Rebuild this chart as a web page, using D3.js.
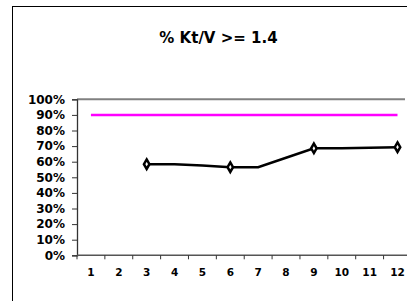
<!DOCTYPE html>
<html><head><meta charset="utf-8">
<script src="https://cdn.jsdelivr.net/npm/d3@7"></script>
<style>body{margin:0;background:#fff}svg{display:block}text{font-family:"DejaVu Sans",Arial,sans-serif;font-weight:bold}</style>
</head><body><svg id="c" width="407" height="301"></svg>
<script>
const title = "% Kt/V >= 1.4";
const months = [1,2,3,4,5,6,7,8,9,10,11,12];
const actual = [null,null,0.584,0.583,0.575,0.565,0.565,0.625,0.686,0.687,0.69,0.693];
const markerMonths = [3,6,9,12];
const target = [0.9,0.9,0.9,0.9,0.9,0.9,0.9,0.9,0.9,0.9,0.9,0.9];
const yTicks = [0,0.1,0.2,0.3,0.4,0.5,0.6,0.7,0.8,0.9,1.0];

const FF = "'DejaVu Sans', Arial, sans-serif";
const svg = d3.select("#c");
const L = 77, T = 99.3, B = 255.3, W = 12*27.87;
svg.append("rect").attr("x",12.5).attr("y",6.5).attr("width",420).attr("height",320)
  .attr("fill","none").attr("stroke","#000").attr("stroke-width",1);
svg.append("text").attr("x",218.5).attr("y",43).attr("text-anchor","middle")
  .attr("font-size","15px").text(title);

const x = d3.scaleBand().domain(months).range([L, L+W]).padding(0);
const y = d3.scaleLinear().domain([0,1]).range([B, T]);

svg.append("line").attr("x1",L).attr("x2",405).attr("y1",y(1)).attr("y2",y(1))
  .attr("stroke","#808080").attr("stroke-width",2);

const ya = svg.append("g").attr("transform",`translate(${L},0)`)
  .call(d3.axisLeft(y).tickValues(yTicks).tickFormat(d3.format(".0%")).tickSize(5).tickPadding(7));
ya.select(".domain").attr("stroke","#333").attr("stroke-width",1.3);
ya.selectAll(".tick line").attr("stroke","#333");
ya.selectAll("text").attr("font-size","12px").attr("fill","#000").style("font-family",FF).style("font-weight","bold");

const xa = svg.append("g").attr("transform",`translate(0,${B})`)
  .call(d3.axisBottom(x).tickSize(0).tickPadding(13));
xa.select(".domain").remove();
xa.selectAll("text").attr("font-size","10.5px").attr("fill","#000").style("font-family",FF).style("font-weight","bold");
svg.append("line").attr("x1",L).attr("x2",407).attr("y1",B).attr("y2",B).attr("stroke","#555").attr("stroke-width",1.5);
svg.append("g").selectAll("line").data(months.concat([13])).join("line")
  .attr("x1",d=>L+(d-1)*x.bandwidth()).attr("x2",d=>L+(d-1)*x.bandwidth())
  .attr("y1",B).attr("y2",B+4).attr("stroke","#333");

const cx = m => x(m)+x.bandwidth()/2;
svg.append("path").datum(months.map((m,i)=>[m,target[i]]))
  .attr("d",d3.line().x(d=>cx(d[0])).y(d=>y(d[1])))
  .attr("fill","none").attr("stroke","#ff00ff").attr("stroke-width",2.5);

const pts = months.map((m,i)=>[m,actual[i]]);
svg.append("path").datum(pts)
  .attr("d",d3.line().defined(d=>d[1]!=null).x(d=>cx(d[0])).y(d=>y(d[1])))
  .attr("fill","none").attr("stroke","#000").attr("stroke-width",2.5);

svg.append("g").selectAll("path").data(markerMonths).join("path")
  .attr("d",d3.symbol(d3.symbolDiamond,26))
  .attr("transform",d=>`translate(${cx(d)},${y(actual[d-1])})`)
  .attr("fill","#fff").attr("stroke","#000").attr("stroke-width",2.5);
</script></body></html>
